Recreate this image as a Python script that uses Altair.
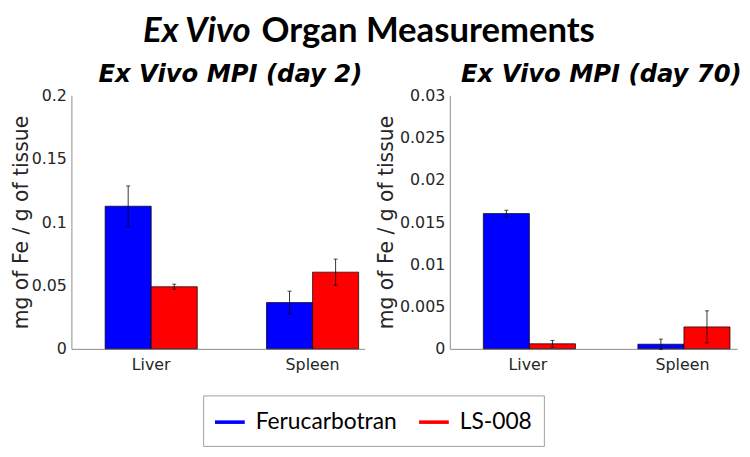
import altair as alt
import pandas as pd

# ---------------- data ----------------
organs = ["Liver", "Spleen"]
agents = ["Ferucarbotran", "LS-008"]
colors = ["#0000ff", "#ff0000"]

# order within each list: (Liver, Ferucarbotran), (Liver, LS-008), (Spleen, Ferucarbotran), (Spleen, LS-008)
day2_mean = [0.1125, 0.049, 0.0365, 0.0605]
day2_err = [0.016, 0.002, 0.009, 0.0103]
day70_mean = [0.0160, 0.0006, 0.00055, 0.0026]
day70_err = [0.0004, 0.0004, 0.0006, 0.0019]

day2_ticks = [0, 0.05, 0.1, 0.15, 0.2]
day70_ticks = [0, 0.005, 0.01, 0.015, 0.02, 0.025, 0.03]

title_parts = ["Ex Vivo", "Organ Measurements"]
panel_titles = ["Ex Vivo MPI (day 2)", "Ex Vivo MPI (day 70)"]
y_title = "mg of Fe / g of tissue"


def make_df(means, errs):
    rows = []
    i = 0
    for o in organs:
        for a in agents:
            m, e = means[i], errs[i]
            rows.append({"organ": o, "agent": a, "mean": m, "lo": m - e, "hi": m + e})
            i += 1
    return pd.DataFrame(rows)


AX_FONT = "DejaVu Sans"
TXT = "#262626"
AXC = "#8c8c8c"


def panel(df, title, ticks, width, dx, p_in, p_out, align, tpad):
    ymax = ticks[-1]
    yscale = alt.Scale(domain=[0, ymax], nice=False)
    yaxis = alt.Axis(values=ticks, format="~g", grid=False, ticks=False,
                     domainColor=AXC, labelFont=AX_FONT, labelFontSize=16,
                     labelColor=TXT, labelPadding=5, titleFont=AX_FONT,
                     titleFontSize=20.5, titleFontWeight="normal", titleColor=TXT,
                     titlePadding=tpad)
    base = alt.Chart(df).encode(
        x=alt.X("organ:N", sort=organs, title=None,
                scale=alt.Scale(paddingInner=p_in, paddingOuter=p_out, align=align),
                axis=alt.Axis(labelAngle=0, ticks=False, domainColor=AXC,
                              labelFont=AX_FONT, labelFontSize=16, labelColor=TXT,
                              labelPadding=8)),
        xOffset=alt.XOffset("agent:N", sort=agents,
                            scale=alt.Scale(paddingInner=0, paddingOuter=0)),
    )
    bars = base.mark_bar(stroke="black", strokeWidth=0.7).encode(
        y=alt.Y("mean:Q", scale=yscale, axis=yaxis, title=y_title),
        color=alt.Color("agent:N", sort=agents,
                        scale=alt.Scale(domain=agents, range=colors),
                        legend=alt.Legend(
                            title=None, orient="none", legendX=133, legendY=389,
                            direction="horizontal",
                            symbolType="M-1,-0.12L1,-0.12L1,0.12L-1,0.12Z",
                            symbolSize=900, symbolStrokeWidth=0,
                            labelFont="Lato", labelFontSize=23, labelColor="black",
                            strokeColor="#a0a0a0", fillColor="white",
                            padding=12, columnPadding=22, labelOffset=11)),
    )
    rules = base.mark_rule(color="black", strokeWidth=0.8).encode(
        y=alt.Y("lo:Q", scale=yscale, title=y_title), y2="hi:Q")
    cap_hi = base.mark_tick(color="black", size=4, thickness=1).encode(
        y=alt.Y("hi:Q", scale=yscale, title=y_title))
    cap_lo = base.mark_tick(color="black", size=4, thickness=1).encode(
        y=alt.Y("lo:Q", scale=yscale, title=y_title))
    return alt.layer(bars, rules, cap_hi, cap_lo).properties(
        width=width, height=256,
        title=alt.TitleParams(title, font=AX_FONT, fontSize=24.5, fontWeight="bold",
                              fontStyle="italic", color="black", dx=dx, offset=0,
                              frame="group"),
    )


left = panel(make_df(day2_mean, day2_err), panel_titles[0], day2_ticks, 296, 12.5,
             0.429, 0.123, 0.85, 0)
right = panel(make_df(day70_mean, day70_err), panel_titles[1], day70_ticks, 290, 8,
              0.423, 0.141, 0.77, 3)

tdf = pd.DataFrame({"part": title_parts})
t_it = alt.Chart(tdf).transform_filter(alt.datum.part == title_parts[0]).mark_text(
    font="Lato", fontSize=35, fontWeight="bold", fontStyle="italic", align="right",
    baseline="top", color="black").encode(
    text="part:N", x=alt.value(181), y=alt.value(4))
t_rest = alt.Chart(tdf).transform_filter(alt.datum.part == title_parts[1]).mark_text(
    font="Lato", fontSize=35, fontWeight="bold", align="left",
    baseline="top", color="black").encode(
    text="part:N", x=alt.value(192), y=alt.value(4))
top = alt.layer(t_it, t_rest).properties(width=600, height=40)

row = alt.hconcat(left, right, spacing=12)
chart = alt.vconcat(top, row, spacing=12).properties(
    padding={"left": 3, "top": 0, "right": 0, "bottom": 0}
).configure_view(stroke=None)

chart.save("out.html", embed_options={"renderer": "svg", "actions": False})
